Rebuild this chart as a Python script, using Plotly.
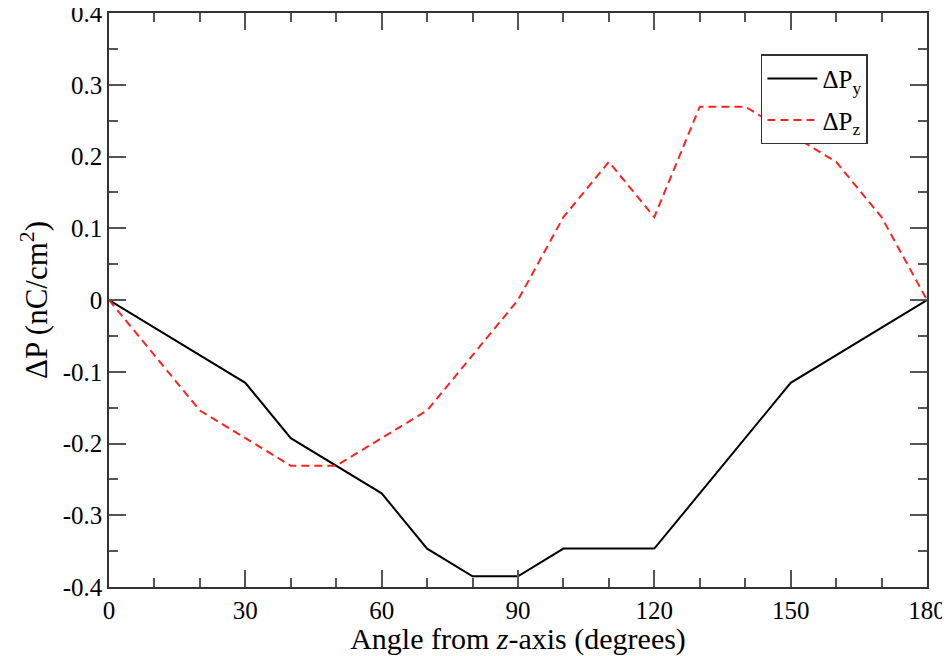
import plotly.graph_objects as go

# Delta P_y (black, solid)
angle_y = [0, 30, 40, 50, 60, 70, 80, 90, 100, 120, 150, 180]
dp_y = [0, -0.1155, -0.1925, -0.231, -0.2695, -0.3465, -0.385, -0.385,
        -0.3465, -0.3465, -0.1155, 0]

# Delta P_z (red, dashed)
angle_z = [0, 20, 40, 50, 70, 90, 100, 110, 120, 130, 140, 160, 170, 180]
dp_z = [0, -0.154, -0.231, -0.231, -0.154, 0, 0.1155, 0.1925, 0.1155,
        0.2695, 0.2695, 0.1925, 0.1155, 0]

x_ticks = [0, 30, 60, 90, 120, 150, 180]
y_ticks = [-0.4, -0.3, -0.2, -0.1, 0, 0.1, 0.2, 0.3, 0.4]
y_labels = ["-0.4", "-0.3", "-0.2", "-0.1", "0", "0.1", "0.2", "0.3", "0.4"]

SERIF = "Liberation Serif"

fig = go.Figure()

fig.add_trace(go.Scatter(
    x=angle_y, y=dp_y, mode="lines",
    name="ΔP<sub>y</sub>", legendgroup="y",
    line=dict(color="black", width=2)
))

fig.add_trace(go.Scatter(
    x=angle_z, y=dp_z, mode="lines",
    name="ΔP<sub>z</sub>", legendgroup="z",
    line=dict(color="#ff2020", width=2, dash="8px,5px")
))

axis_common = dict(
    showgrid=False, zeroline=False, automargin=False, ticklabeloverflow="allow",
    showline=True, linecolor="#333333", linewidth=1.5, mirror="allticks",
    ticks="inside", ticklen=17, tickwidth=1.5, tickcolor="#555555",
    tickfont=dict(family=SERIF, size=25, color="black"),
)

fig.update_xaxes(
    range=[0, 180], tickmode="array", tickvals=x_ticks,
    minor=dict(dtick=10, ticks="inside", ticklen=9, tickwidth=1.5, tickcolor="#555555"),
    title=dict(text="Angle from <i>z</i>-axis (degrees)",
               font=dict(family=SERIF, size=30, color="black"), standoff=0),
    **axis_common
)

fig.update_yaxes(
    range=[-0.4, 0.4], tickmode="array", tickvals=y_ticks, ticktext=y_labels,
    minor=dict(dtick=0.05, ticks="inside", ticklen=9, tickwidth=1.5, tickcolor="#555555"),
    title=dict(text="ΔP (nC/cm<sup>2</sup>)",
               font=dict(family=SERIF, size=31, color="black"), standoff=6),
    **axis_common
)

# page body adds an 8px margin, so the figure is 8px smaller on each axis
fig.update_layout(
    width=942, height=648,
    margin=dict(l=101, r=23, t=5, b=69),
    plot_bgcolor="white", paper_bgcolor="white",
    legend=dict(
        x=0.797, y=0.928, xanchor="left", yanchor="top",
        bgcolor="white", bordercolor="#333333", borderwidth=1.5,
        font=dict(family=SERIF, size=25, color="black"),
        itemwidth=50, tracegroupgap=6,
    ),
)

fig.write_html("out.html")
